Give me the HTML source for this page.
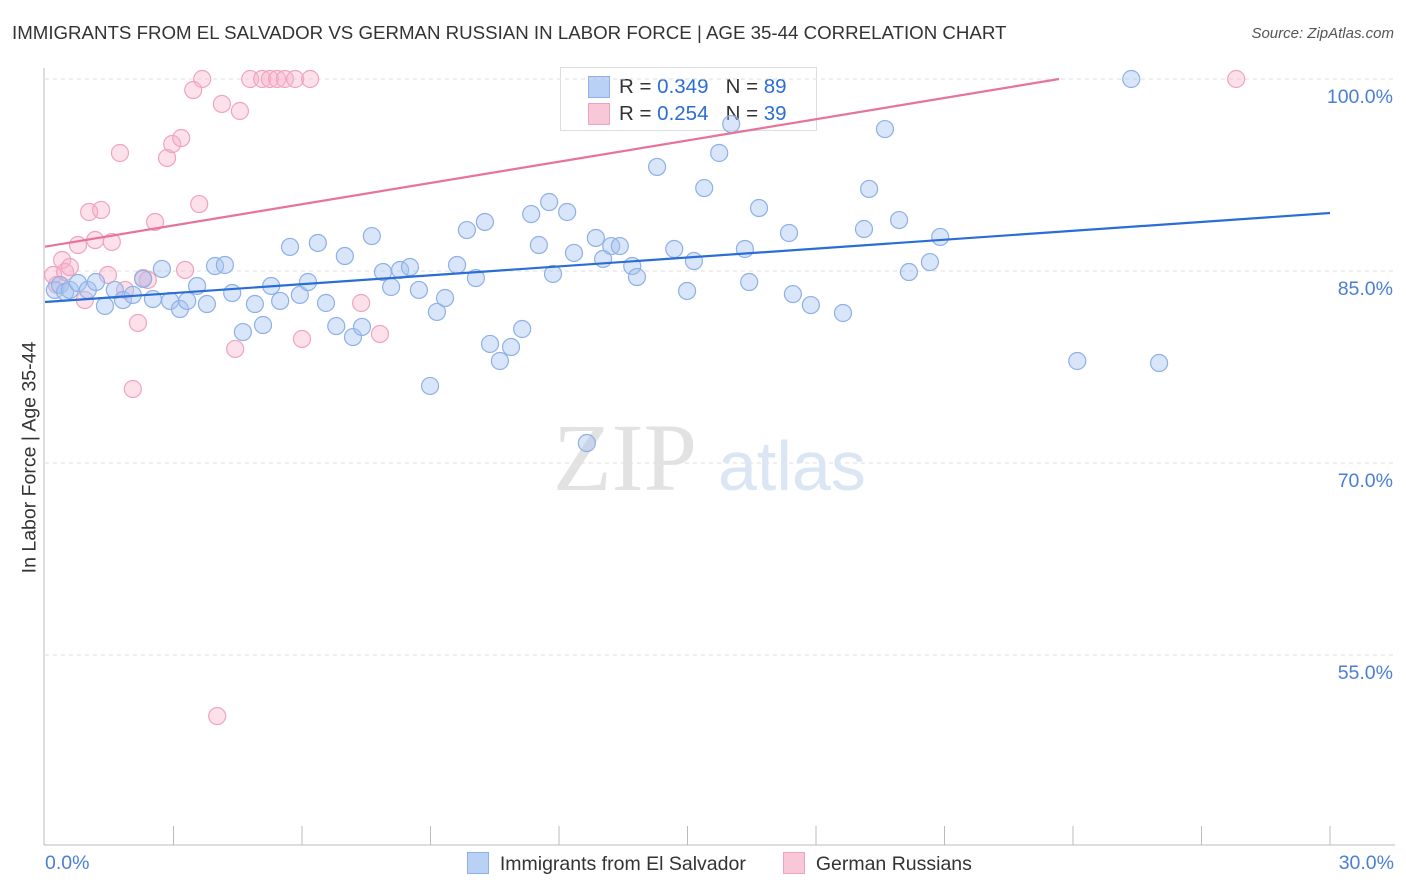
<!DOCTYPE html>
<html><head><meta charset="utf-8">
<style>
body{margin:0;background:#fff;font-family:"Liberation Sans",sans-serif;}
#wrap{position:relative;width:1406px;height:892px;overflow:hidden;}
.t{position:absolute;white-space:nowrap;}
</style></head>
<body>
<div id="wrap">
<div class="t" style="left:12px;top:22px;font-size:18.7px;color:#333;">IMMIGRANTS FROM EL SALVADOR VS GERMAN RUSSIAN IN LABOR FORCE | AGE 35-44 CORRELATION CHART</div>
<div class="t" style="right:12px;top:25px;font-size:15px;color:#555;font-style:italic;">Source: ZipAtlas.com</div>
<div style="position:absolute;left:560px;top:67px;width:255px;height:62px;border:1px solid #ddd;background:#fff;font-size:20.5px;">
  <div style="position:absolute;left:27px;top:8px;width:20px;height:20px;background:#b9d1f5;border:1px solid #8eb0e6;"></div>
  <div class="t" style="left:58px;top:7px;color:#333;">R = <span style="color:#2a6dd5">0.349</span>&nbsp;&nbsp;&nbsp;N = <span style="color:#2a6dd5">89</span></div>
  <div style="position:absolute;left:27px;top:35px;width:20px;height:20px;background:#f9c8d8;border:1px solid #f0a3be;"></div>
  <div class="t" style="left:58px;top:34px;color:#333;">R = <span style="color:#2a6dd5">0.254</span>&nbsp;&nbsp;&nbsp;N = <span style="color:#2a6dd5">39</span></div>
</div>
<svg id="svg" width="1406" height="892" style="position:absolute;left:0;top:0"><g id="under"></g></svg>
</div>
<script>
const blueX=[0.23,0.35,0.47,0.58,0.77,1.00,1.19,1.40,1.63,1.82,2.05,2.29,2.52,2.73,2.92,3.15,3.32,3.55,3.78,3.97,4.20,4.37,4.62,4.90,5.09,5.28,5.49,5.72,5.95,6.14,6.37,6.56,6.80,7.00,7.19,7.40,7.63,7.89,8.08,8.29,8.52,8.73,8.99,9.15,9.34,9.62,9.85,10.06,10.27,10.39,10.62,10.88,11.14,11.35,11.53,11.77,11.86,12.19,12.35,12.65,12.86,13.03,13.22,13.42,13.71,13.82,14.29,14.69,14.99,15.15,15.39,15.74,16.02,16.34,16.44,16.67,17.37,17.46,17.88,18.63,19.12,19.24,19.61,19.94,20.17,20.66,20.90,24.10,25.36,26.01];
const blueY=[83.52,83.91,83.36,83.52,84.06,83.52,84.14,82.27,83.52,82.73,83.13,84.38,82.81,85.16,82.66,82.03,82.66,83.83,82.42,85.39,85.47,83.28,80.23,82.42,80.78,83.83,82.66,86.88,83.13,84.14,87.19,82.50,80.70,86.17,79.84,80.63,87.73,84.92,83.75,85.08,85.31,83.52,76.02,81.80,82.89,85.47,88.20,84.45,88.83,79.30,77.97,79.06,80.47,89.45,87.03,90.39,84.77,89.61,86.41,71.56,87.58,85.94,86.95,86.95,85.39,84.53,93.13,86.72,83.44,85.78,91.48,94.22,96.48,86.72,84.14,89.92,87.97,83.20,82.34,81.72,88.28,91.41,96.09,88.98,84.92,85.70,87.66,77.97,100,77.81];
const pinkX=[0.19,0.28,0.40,0.47,0.58,0.77,0.93,1.03,1.17,1.31,1.47,1.56,1.75,1.87,2.05,2.17,2.29,2.40,2.57,2.85,2.97,3.18,3.27,3.46,3.60,3.67,4.13,4.44,4.55,4.79,5.07,5.25,5.42,5.60,5.84,6.19,6.00,7.38,7.82,4.02,27.81];
const pinkY=[84.69,83.91,85.86,84.92,85.31,87.03,82.73,89.61,87.42,89.77,84.69,87.27,94.22,83.52,75.78,80.94,84.45,84.30,88.83,93.83,94.92,95.39,85.08,99.14,90.23,100,98.05,78.91,97.50,100,100,100,100,100,100,100,79.69,82.50,80.08,50.23,100];
const blueTrend=[82.58,89.53];
const pinkTrend=[86.9,103.5];
const yTicks=[100,85,70,55];
const yTickLabels=["100.0%","85.0%","70.0%","55.0%"];
const xTickCount=10;

const X0=45,X1=1330,Y100=79,PXPER=12.8;
const sx=v=>X0+(v/30)*(X1-X0);
const sy=v=>Y100+(100-v)*PXPER;
const NS="http://www.w3.org/2000/svg";
const svg=document.getElementById('svg');
function mk(tag,a,p){const e=document.createElementNS(NS,tag);for(const k in a)e.setAttribute(k,a[k]);(p||svg).appendChild(e);return e;}

yTicks.forEach((v,i)=>{
  const g=mk('line',{x1:45,x2:1395,y1:sy(v),y2:sy(v),stroke:'#ddd','stroke-dasharray':'4,4'});
  
  
  const t=mk('text',{x:1393,y:sy(v)+24,'text-anchor':'end','font-size':19.5,fill:'#4a7fd4','font-family':'Liberation Sans, sans-serif'});
  t.textContent=yTickLabels[i];
  
  
});
const ya=mk('line',{x1:44,x2:44,y1:68,y2:845,stroke:'#bbb'});


const xa=mk('line',{x1:44,x2:1395,y1:845,y2:845,stroke:'#bbb'});


for(let i=1;i<=xTickCount;i++){
  const tk=mk('line',{x1:sx(i*3),x2:sx(i*3),y1:826,y2:845,stroke:'#bbb'});
  
  
}
const wm=mk('text',{x:553,y:490,'font-size':96,fill:'#e2e2e2','font-family':'Liberation Serif, serif'});
wm.textContent='ZIP';


const wm2=mk('text',{x:718,y:490,'font-size':70,fill:'#dbe6f5','font-family':'Liberation Sans, sans-serif'});
wm2.textContent='atlas';



pinkX.forEach((v,i)=>{
  const c=mk('circle',{cx:sx(v),cy:sy(pinkY[i]),r:8.5,fill:'rgba(246,176,200,0.38)',stroke:'#f0a3be','stroke-width':1.2});
  
  
});
blueX.forEach((v,i)=>{
  const c=mk('circle',{cx:sx(v),cy:sy(blueY[i]),r:8.5,fill:'rgba(165,195,240,0.42)',stroke:'#8eb0e6','stroke-width':1.2});
  
  
});
const bl=mk('line',{x1:sx(0),y1:sy(blueTrend[0]),x2:sx(30),y2:sy(blueTrend[1]),stroke:'#2a6dd5','stroke-width':2.2});


const slope=(pinkTrend[1]-pinkTrend[0])/30;
const xEnd=Math.min(30,(100-pinkTrend[0])/slope);
const pl=mk('line',{x1:sx(0),y1:sy(pinkTrend[0]),x2:sx(xEnd),y2:sy(pinkTrend[0]+slope*xEnd),stroke:'#e6739a','stroke-width':2.2});


</script>

<div class="t" style="left:-90px;top:446px;transform:rotate(-90deg);font-size:19.5px;color:#333;width:240px;text-align:center;">In Labor Force | Age 35-44</div>
<div class="t" style="left:45px;top:852px;font-size:19.5px;color:#4a7fd4;">0.0%</div>
<div class="t" style="right:12px;top:852px;font-size:19.5px;color:#4a7fd4;">30.0%</div>

<div style="position:absolute;left:467px;top:852px;font-size:19.5px;color:#333;">
  <div style="position:absolute;left:0;top:0;white-space:nowrap;">
    <span style="display:inline-block;width:20px;height:20px;background:#b9d1f5;border:1px solid #8eb0e6;vertical-align:-4px;"></span>&nbsp; Immigrants from El Salvador</div>
  <div style="position:absolute;left:316px;top:0;white-space:nowrap;">
    <span style="display:inline-block;width:20px;height:20px;background:#f9c8d8;border:1px solid #f0a3be;vertical-align:-4px;"></span>&nbsp; German Russians</div>
</div>
</body></html>
